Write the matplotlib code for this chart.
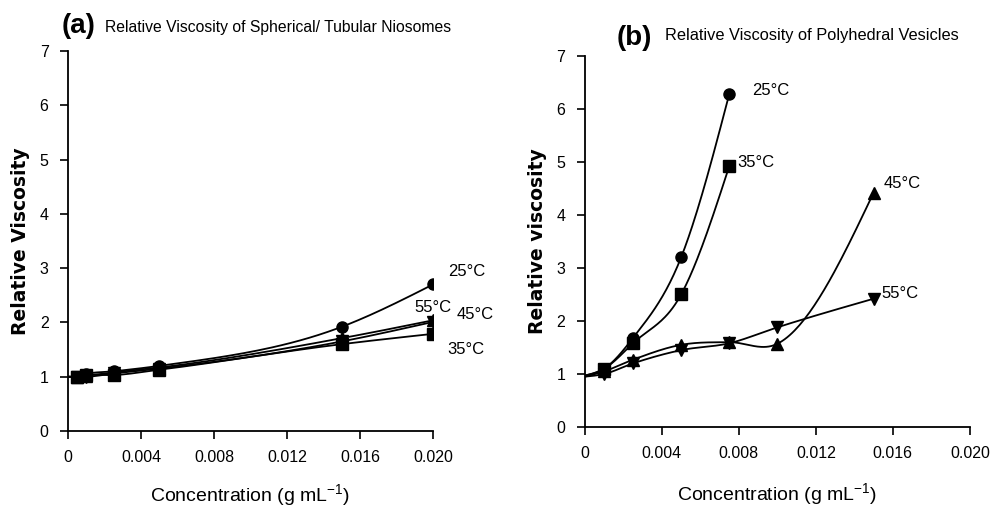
import numpy as np
import matplotlib
matplotlib.use("Agg")
import matplotlib.pyplot as plt

plt.rcParams['font.family'] = ['Liberation Sans', 'DejaVu Sans']
plt.rcParams['mathtext.default'] = 'regular'

# ---- panel (a): spherical / tubular niosomes ----
conc_a = [0.0, 0.0005, 0.001, 0.0025, 0.005, 0.015, 0.020]
visc_a_25 = [1.0, 1.00, 1.05, 1.10, 1.20, 1.92, 2.70]
visc_a_35 = [1.0, 1.00, 1.03, 1.03, 1.13, 1.60, 1.79]
visc_a_45 = [1.0, 1.00, 1.02, 1.08, 1.17, 1.71, 2.04]
visc_a_55 = [1.0, 1.00, 1.00, 1.06, 1.15, 1.65, 2.01]

# ---- panel (b): polyhedral vesicles ----
conc_b_low = [0.0, 0.001, 0.0025, 0.005, 0.0075]
visc_b_25 = [0.97, 1.10, 1.68, 3.20, 6.28]
visc_b_35 = [0.97, 1.10, 1.58, 2.50, 4.92]
conc_b_high = [0.0, 0.001, 0.0025, 0.005, 0.0075, 0.010, 0.015]
visc_b_45 = [0.95, 1.05, 1.27, 1.55, 1.60, 1.57, 4.42]
visc_b_55 = [0.95, 1.00, 1.20, 1.45, 1.58, 1.88, 2.42]


def smooth(x, y, n=40):
    # piecewise cubic hermite, 3-point tangents, natural ends (like a "smoothed line")
    x = np.asarray(x, float)
    y = np.asarray(y, float)
    h = np.diff(x)
    d = np.diff(y) / h
    m = np.zeros_like(y)
    for i in range(1, len(x) - 1):
        m[i] = (h[i] * d[i - 1] + h[i - 1] * d[i]) / (h[i - 1] + h[i])
    m[0] = (3 * d[0] - m[1]) / 2
    m[-1] = (3 * d[-1] - m[-2]) / 2
    xs, ys = [], []
    t = np.linspace(0, 1, n)
    for i in range(len(x) - 1):
        h00 = 2 * t ** 3 - 3 * t ** 2 + 1
        h10 = t ** 3 - 2 * t ** 2 + t
        h01 = -2 * t ** 3 + 3 * t ** 2
        h11 = t ** 3 - t ** 2
        xs.append(x[i] + t * h[i])
        ys.append(h00 * y[i] + h10 * h[i] * m[i] + h01 * y[i + 1] + h11 * h[i] * m[i + 1])
    return np.concatenate(xs), np.concatenate(ys)


def draw(ax, x, y, marker, ms):
    sx, sy = smooth(x, y)
    ax.plot(sx, sy, color='black', lw=1.3)
    ax.plot(x[1:], y[1:], linestyle='none', marker=marker, color='black', ms=ms)


def style(ax, ylabel, xpad):
    ax.set_xlim(0, 0.020)
    ax.set_ylim(0, 7)
    ax.set_xticks([0, 0.004, 0.008, 0.012, 0.016, 0.020])
    ax.set_xticklabels(['0', '0.004', '0.008', '0.012', '0.016', '0.020'])
    ax.set_yticks(range(8))
    for s in ['top', 'right']:
        ax.spines[s].set_visible(False)
    for s in ['left', 'bottom']:
        ax.spines[s].set_linewidth(1.3)
    ax.tick_params(direction='out', length=6, width=1.2, labelsize=11.5, pad=8)
    ax.set_xlabel('Concentration (g mL$^{-1}$)', fontsize=14, labelpad=xpad)
    ax.set_ylabel(ylabel, fontsize=13.5, fontweight='bold', labelpad=7,
                  family=['DejaVu Sans'])


fig = plt.figure(figsize=(9.93, 5.09), dpi=100)
ax1 = fig.add_axes([0.0685, 0.1532, 0.3676, 0.7466])
ax2 = fig.add_axes([0.589, 0.1611, 0.3877, 0.729])

draw(ax1, conc_a, visc_a_25, 'o', 8)
draw(ax1, conc_a, visc_a_35, 's', 8)
draw(ax1, conc_a, visc_a_45, '^', 8)
draw(ax1, conc_a, visc_a_55, 'v', 8)
style(ax1, 'Relative Viscosity', 12)
ax1.text(0.0208, 2.85, '25°C', fontsize=12)
ax1.text(0.0190, 2.20, '55°C', fontsize=12)
ax1.text(0.0213, 2.07, '45°C', fontsize=12)
ax1.text(0.0208, 1.42, '35°C', fontsize=12)

draw(ax2, conc_b_low, visc_b_25, 'o', 8)
draw(ax2, conc_b_low, visc_b_35, 's', 8)
draw(ax2, conc_b_high, visc_b_45, '^', 8)
draw(ax2, conc_b_high, visc_b_55, 'v', 8)
style(ax2, 'Relative viscosity', 14)
ax2.text(0.0087, 6.27, '25°C', fontsize=12)
ax2.text(0.0079, 4.90, '35°C', fontsize=12)
ax2.text(0.0155, 4.50, '45°C', fontsize=12)
ax2.text(0.0154, 2.43, '55°C', fontsize=12)

fig.text(0.062, 0.935, '(a)', fontsize=20, fontweight='bold')
fig.text(0.106, 0.938, 'Relative Viscosity of Spherical/ Tubular Niosomes', fontsize=11.3)
fig.text(0.621, 0.912, '(b)', fontsize=20, fontweight='bold')
fig.text(0.670, 0.922, 'Relative Viscosity of Polyhedral Vesicles', fontsize=11.8)

fig.savefig('out.png', dpi=100)
